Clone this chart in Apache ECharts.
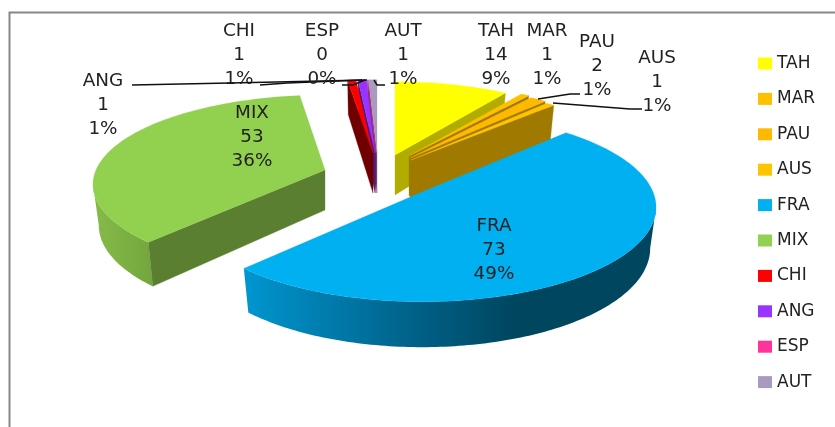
<!DOCTYPE html>
<html><head><meta charset="utf-8">
<style>html,body{margin:0;padding:0;background:#fff}#c{width:835px;height:427px}</style>
<script src="https://cdn.jsdelivr.net/npm/echarts@6/dist/echarts.min.js"></script>
</head><body><div id="c"></div>
<script>
// ---- data ----
const categories = ['TAH','MAR','PAU','AUS','FRA','MIX','CHI','ANG','ESP','AUT'];
const values     = [14,1,2,1,73,53,1,1,0,1];
const percents   = [9,1,1,1,49,36,1,1,0,1];

// ---- styling ----
const topColors  = ['#FFFF00','#FFC000','#FFB900','#FFC400','#00B0F0','#92D050','#FF0000','#9933FF','#FF3399','#A99BBD'];
const edgeColors = ['#B3AC00','#A07A00','#A07A00','#A07A00','#005F85','#5B7F30','#700000','#4A1A80','#80194D','#5E5470'];
const rimStops = {
  FRA: [[0,'#0096D0'],[0.43,'#005F85'],[0.66,'#00465F'],[1,'#00465F']],
  MIX: [[0,'#86BC49'],[1,'#74A53E']]
};
// exploded-slice geometry: apex x, apex y, horizontal radius, vertical radius
const sliceLayout = {
  TAH:[395,155,222,85], MAR:[409,156,226,85], PAU:[410,158,228,85], AUS:[411,160,229,85],
  FRA:[422,192,231,92], MIX:[325,170,229,87], CHI:[373,153,230,85], ANG:[375,153,230,85],
  ESP:[376,153,230,85], AUT:[377,153,230,85]
};
const perspective = 0.161;
const drawOrder = ['AUT','ESP','ANG','CHI','MIX','TAH','MAR','PAU','AUS','FRA'];
// label centres (middle line) and leader lines
const labelPos = {
  TAH:[496,56], MAR:[547,56], PAU:[597,67], AUS:[657,83], FRA:[494,251],
  MIX:[252,138], CHI:[239,56], ANG:[103,106], ESP:[322,56], AUT:[403,56]
};
const leaders = {
  ANG:[[132,85],[230,83],[367,80]],
  CHI:[[260,85],[287,83],[362,80]],
  ESP:[[342,85],[353,85],[365,80]],
  AUT:[[385,85],[377,85],[374,80]],
  PAU:[[580,94],[570,94],[538,99]],
  AUS:[[642,109],[630,109],[553,103]]
};
const FONT = '"DejaVu Sans"';
const RIGHTMOST = Math.acos(-perspective)*180/Math.PI;   // silhouette tangents of the tilted disc

const total = values.reduce((a,b)=>a+b,0);
function angles(i){
  let s = 0; for(let k=0;k<i;k++) s += values[k];
  return [s/total*360, (s+values[i])/total*360];
}
function sliceItem(name){
  const i = categories.indexOf(name);
  const [ax,ay,R,Rt] = sliceLayout[name];
  const [a0,a1] = angles(i);
  const top = t=>{
    const r=t*Math.PI/180, s=Math.sin(r), c=Math.cos(r), k=1+perspective*c;
    return [ax+R*s/k, ay-Rt*c/k];
  };
  const bot = t=>{
    const p=top(t), c=Math.cos(t*Math.PI/180);
    return [ax+(p[0]-ax)*0.975, p[1]+40-5.5*c];
  };
  const apexB=[ax,ay+40];
  const kids=[];
  const poly=(points,fill)=>kids.push({type:'polygon',silent:true,shape:{points},
    style:{fill,stroke:typeof fill==='string'?fill:null,lineWidth:0.3}});
  const range=(u,v)=>{const a=[];const n=Math.max(2,Math.ceil(v-u));for(let j=0;j<=n;j++)a.push(u+(v-u)*j/n);return a;};
  // outer rim wall, from silhouette tangent to silhouette tangent
  const r0=Math.max(a0,RIGHTMOST), r1=Math.min(a1,360-RIGHTMOST);
  if(r1>r0){
    const ts=range(r0,r1);
    const stops=rimStops[name];
    const fill=stops?new echarts.graphic.LinearGradient(0,0,1,0,stops.map(s=>({offset:s[0],color:s[1]}))):edgeColors[i];
    poly(ts.map(top).concat(ts.slice().reverse().map(bot)),fill);
  }
  // radial walls that face the viewer
  if(Math.sin(a1*Math.PI/180)>0.01 && a1<180) poly([[ax,ay],top(a1),bot(a1),apexB],edgeColors[i]);
  if(Math.sin(a0*Math.PI/180)<-0.01 && a0>180) poly([[ax,ay],top(a0),bot(a0),apexB],edgeColors[i]);
  // top face
  poly([[ax,ay]].concat(range(a0,a1).map(top)),topColors[i]);
  return {type:'group',children:kids};
}

const sliceSeries = drawOrder.map((name,o)=>({
  type:'custom', name, coordinateSystem:'none', z:2+o*0.01, silent:true, clip:false,
  itemStyle:{color:topColors[categories.indexOf(name)]},
  data:[[values[categories.indexOf(name)]]],
  renderItem:()=>sliceItem(name)
}));

const labelSeries = {
  type:'custom', name:'labels', coordinateSystem:'none', z:5, silent:true,
  data:categories.map((c,i)=>[values[i],percents[i]]),
  renderItem:(p,api)=>{
    const name=categories[p.dataIndex];
    const kids=[];
    if(leaders[name]) kids.push({type:'polyline',shape:{points:leaders[name]},
      style:{stroke:'#111',lineWidth:1.5,fill:null}});
    const lp=labelPos[name];
    kids.push({type:'text',x:lp[0],y:lp[1],scaleX:1.08,style:{
      x:0,y:0,text:name+'\n'+api.value(0)+'\n'+api.value(1)+'%',
      align:'center',verticalAlign:'middle',lineHeight:24,
      font:'17px '+FONT,fill:'#222'}});
    return {type:'group',children:kids};
  }
};

const chart = echarts.init(document.getElementById('c'),null,{renderer:'canvas'});
chart.setOption({
  animation:false,
  backgroundColor:'#fff',
  legend:{
    data:categories, orient:'vertical', left:758, top:53.5, selectedMode:false,
    icon:'rect', itemWidth:14, itemHeight:12, itemGap:15.4, padding:0,
    textStyle:{fontFamily:FONT,fontSize:17,color:'#222',lineHeight:20,padding:[0,0,0,0]}
  },
  graphic:[{type:'polyline',silent:true,z:0,
    shape:{points:[[9.5,427],[9.5,12.5],[835,12.5]]},
    style:{stroke:'#878787',lineWidth:2,fill:null}}],
  series:sliceSeries.concat([labelSeries])
});
</script></body></html>
